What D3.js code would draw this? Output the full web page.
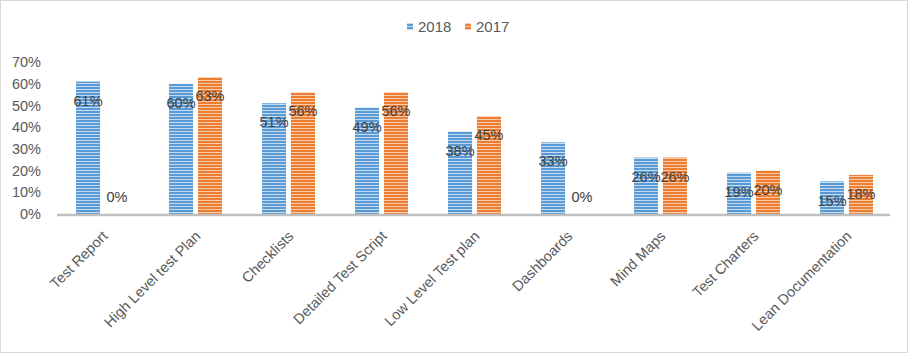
<!DOCTYPE html>
<html><head><meta charset="utf-8">
<script src="https://cdn.jsdelivr.net/npm/d3@7"></script>
<style>body{margin:0;background:#fff}svg{display:block}text{font-family:"Liberation Sans",Arial,sans-serif;fill:#595959}</style>
</head><body><svg id="c" width="912" height="354"></svg>
<script>
const categories = ["Test Report","High Level test Plan","Checklists","Detailed Test Script","Low Level Test plan","Dashboards","Mind Maps","Test Charters","Lean Documentation"];
const seriesNames = ["2018","2017"];
const values2018 = [61,60,51,49,38,33,26,19,15];
const values2017 = [0,63,56,56,45,0,26,20,18];
const yTicks = [0,10,20,30,40,50,60,70];
const colors = ["#5b9bd5","#ed7d31"];
const lightColors = ["#c6dbf0","#f8cbad"];

const svg = d3.select("#c");
svg.append("rect").attr("x",0.5).attr("y",0.5).attr("width",907).attr("height",352)
  .attr("fill","#fff").attr("stroke","#d9d9d9");

const defs = svg.append("defs");
colors.forEach((c,i)=>{
  const p = defs.append("pattern").attr("id","p"+i).attr("patternUnits","userSpaceOnUse")
    .attr("width",4).attr("height",3);
  p.append("rect").attr("width",4).attr("height",3).attr("fill",c);
  p.append("rect").attr("y",2).attr("width",4).attr("height",1).attr("fill",lightColors[i]);
});

const x0 = d3.scaleBand().domain(categories).range([56,893]).paddingInner(0).paddingOuter(0);
const groupW = 53;
const x1 = d3.scaleBand().domain(seriesNames).range([0,groupW]).paddingInner(5/29.5);
const y = d3.scaleLinear().domain([0,70]).range([214,62]);

// y tick labels
svg.append("g").selectAll("text").data(yTicks).join("text")
  .attr("x",41).attr("y",d=>y(d)).attr("dy","0.35em").attr("text-anchor","end")
  .style("font-size","14.5px").text(d=>d+"%");

const data = categories.map((c,i)=>({cat:c, vals:[values2018[i],values2017[i]]}));
const g = svg.append("g");
data.forEach(d=>{
  const gx = x0(d.cat) + (x0.bandwidth()-groupW)/2;
  d.vals.forEach((v,si)=>{
    const bx = gx + x1(seriesNames[si]);
    if (v>0) g.append("rect").attr("x",bx).attr("y",y(v)).attr("width",x1.bandwidth())
      .attr("height",y(0)-y(v)).attr("fill","url(#p"+si+")");
  });
});
// axis line
svg.append("line").attr("x1",57).attr("x2",890).attr("y1",y(0)+1).attr("y2",y(0)+1)
  .attr("stroke","#bfbfbf").attr("stroke-width",2.5);
// value labels
data.forEach(d=>{
  const gx = x0(d.cat) + (x0.bandwidth()-groupW)/2;
  d.vals.forEach((v,si)=>{
    const cx = gx + x1(seriesNames[si]) + x1.bandwidth()/2;
    const ly = v>0 ? y(v)+19 : y(0)-17;
    svg.append("text").attr("x",cx).attr("y",ly).attr("dy","0.35em").attr("text-anchor","middle")
      .style("font-size","14.5px").style("fill","#404040").text(v+"%");
  });
});
// x labels
svg.append("g").selectAll("text").data(categories).join("text")
  .attr("transform",d=>`translate(${x0(d)+x0.bandwidth()/2+6},${237}) rotate(-45)`)
  .attr("text-anchor","end")
  .style("font-size","14.5px").text(d=>d);
// legend
const leg = svg.append("g");
const legX = [407,465];
seriesNames.forEach((s,i)=>{
  leg.append("rect").attr("x",legX[i]).attr("y",23).attr("width",6).attr("height",7).attr("fill","url(#p"+i+")");
  leg.append("text").attr("x",legX[i]+11).attr("y",32).style("font-size","15px").text(s);
});
</script></body></html>
